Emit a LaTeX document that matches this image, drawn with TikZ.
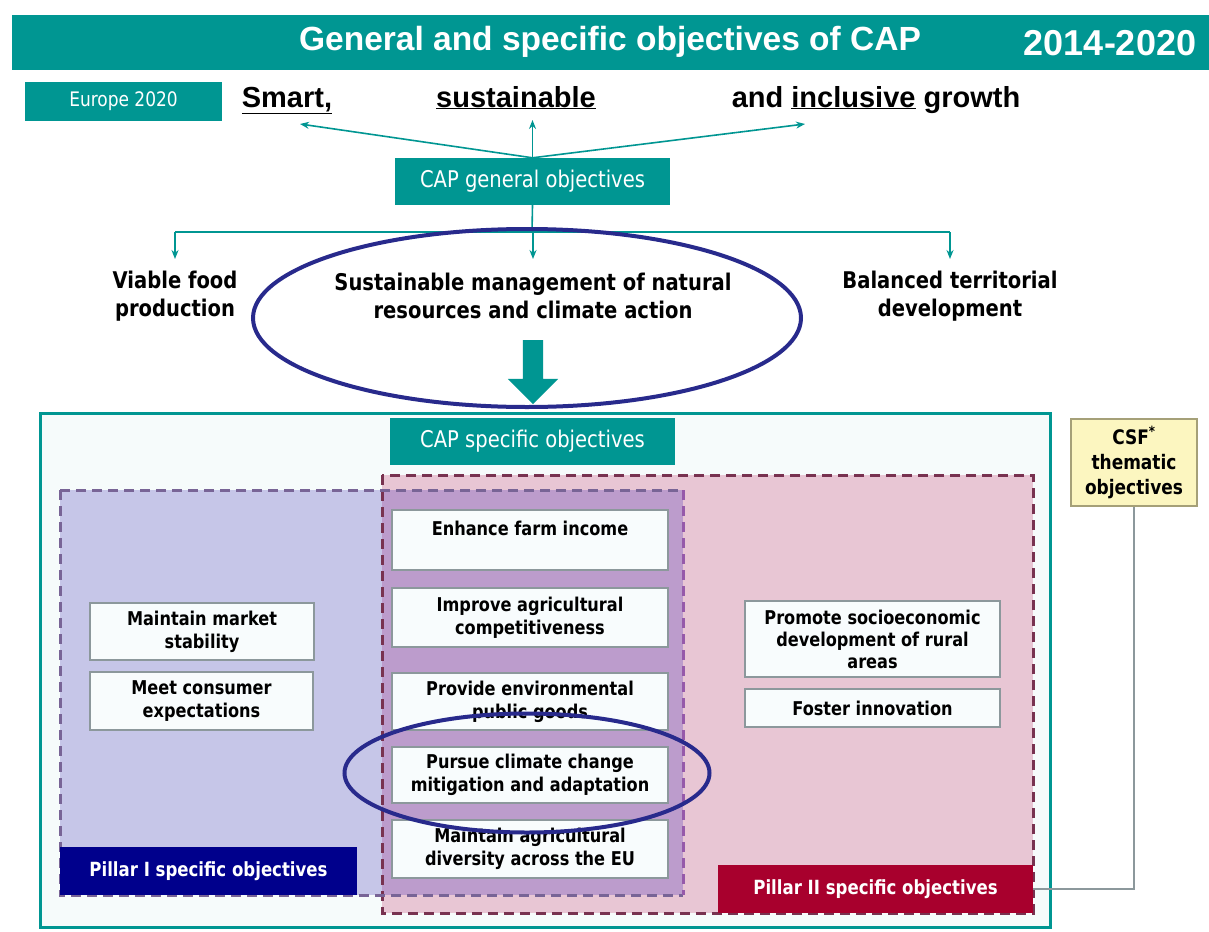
\documentclass[tikz,border=0pt]{standalone}
\usepackage{fontspec}
\setmainfont{Liberation Sans}
\newfontfamily\boxfont{DejaVu Sans}[FakeStretch=0.85]
\usetikzlibrary{arrows.meta,shapes.geometric,shapes.arrows}

\definecolor{capteal}{RGB}{0,150,146}
\definecolor{ringblue}{RGB}{40,42,140}
\definecolor{pilloneback}{RGB}{198,198,232}
\definecolor{pilltwoback}{RGB}{232,198,212}
\definecolor{bothback}{RGB}{188,156,204}
\definecolor{pillonedash}{RGB}{120,100,150}
\definecolor{pilltwodash}{RGB}{120,50,80}
\definecolor{bothdash}{RGB}{150,90,170}
\definecolor{pillonelabel}{RGB}{0,0,140}
\definecolor{pilltwolabel}{RGB}{168,0,45}
\definecolor{boxfill}{RGB}{248,252,253}
\definecolor{boxedge}{RGB}{140,152,156}
\definecolor{csfback}{RGB}{252,246,192}
\definecolor{csfedge}{RGB}{165,160,120}
\definecolor{outerback}{RGB}{246,251,251}

\tikzset{
  tealbox/.style={fill=capteal, text=white, inner sep=0pt,
    font=\boxfont\fontsize{23}{26}\selectfont},
  objbox/.style={draw=boxedge, fill=boxfill, line width=1.5pt, inner sep=0pt,
    align=center, font=\boxfont\bfseries\fontsize{19}{23}\selectfont},
  aimtext/.style={align=center, inner sep=2pt,
    font=\boxfont\bfseries\fontsize{23}{28}\selectfont},
  growth/.style={anchor=base, font=\bfseries\fontsize{29}{32}\selectfont},
  thinarrow/.style={capteal, line width=1.6pt, -{Stealth[length=9pt,width=7pt]}},
  ring/.style={draw=ringblue, line width=4pt, ellipse, inner sep=0pt},
  pillarlabel/.style={text=white, inner sep=0pt,
    font=\boxfont\bfseries\fontsize{19.5}{22}\selectfont},
  pillardash/.style={line width=3pt, dash pattern=on 10pt off 6pt},
}

\begin{document}
\begin{tikzpicture}[x=1pt,y=-1pt]
  \useasboundingbox (0,0) rectangle (1209,931);
  \fill[white] (0,0) rectangle (1209,931);

  % Heading band
  \fill[capteal] (12,15) rectangle (1209,70);
  \node[text=white, font=\bfseries\fontsize{33.5}{36}\selectfont] (title) at (610,42) {General and specific objectives of CAP};
  \node[text=white, font=\bfseries\fontsize{36}{40}\selectfont] (years) at (1110,43) {2014-2020};

  % Europe 2020 goals
  \node[tealbox, minimum width=197pt, minimum height=39pt,
        font=\boxfont\fontsize{20}{22}\selectfont] (europe) at (123.5,101.5) {Europe 2020};
  \node[growth] (smart) at (287,107) {\underline{Smart,}};
  \node[growth] (sust) at (516,107) {\underline{sustainable}};
  \node[growth] (incl) at (876,107) {and \underline{inclusive} growth};

  \node[tealbox, minimum width=275pt, minimum height=47pt] (general) at (532.5,181.5) {CAP general objectives};
  \coordinate (goalfoot) at (0,124);
  \draw[thinarrow] (general.north) -- ([xshift=13pt]smart.base |- goalfoot);
  \draw[thinarrow] (general.north) -- (general.north |- 0,120);
  \draw[thinarrow] (general.north) -- ([xshift=-71pt]incl.base |- goalfoot);

  % General objectives
  \coordinate (fork) at (532,232);
  \coordinate (aimtop) at (0,259);
  \node[aimtext] (viable) at (175,296) {Viable food\\production};
  \node[aimtext] (natural) at (533,296) {Sustainable management of natural\\resources and climate action};
  \node[aimtext] (balanced) at (950,296) {Balanced territorial\\development};
  \draw[capteal, line width=1.6pt] (general.south) -- (fork);
  \draw[capteal, line width=1.6pt] (viable.north |- fork) -- (balanced.north |- fork);
  \foreach \aim in {viable,natural,balanced}
    \draw[thinarrow] (\aim.north |- fork) -- (\aim.north |- aimtop);

  \node[single arrow, fill=capteal, inner sep=10pt, minimum height=64pt,
        single arrow head extend=15pt, shape border rotate=270] (down) at (533,367) {};

  % Specific objectives frame
  \node[draw=capteal, fill=outerback, line width=3pt, minimum width=1010pt,
        minimum height=514pt, inner sep=0pt] (frame) at (545,670) {};
  \node[tealbox, minimum width=285pt, minimum height=47pt] (specific) at (532.5,441.5) {CAP specific objectives};

  % Pillar areas
  \fill[pilltwoback] (382,475) rectangle (1033,913);
  \fill[pilloneback] (60,490) rectangle (382,895);
  \fill[bothback] (382,490) rectangle (683,895);
  \draw[pilltwodash, pillardash] (382,475) rectangle (1033,913);
  \draw[pillonedash, pillardash] (60,490) -- (683,490);
  \draw[pillonedash, pillardash] (60,490) -- (60,895) -- (683,895);
  \draw[bothdash, pillardash] (683,490) -- (683,895);

  \node[pillarlabel, fill=pillonelabel, minimum width=297pt, minimum height=48pt] (pillone) at (208.5,871) {Pillar I specific objectives};
  \node[pillarlabel, fill=pilltwolabel, minimum width=315pt, minimum height=48pt] (pilltwo) at (875.5,889) {Pillar II specific objectives};

  % Pillar I objectives
  \node[objbox, minimum width=224pt, minimum height=57pt] (market) at (202,631.5) {Maintain market\\stability};
  \node[objbox, minimum width=223pt, minimum height=58pt] (consumer) at (201.5,701) {Meet consumer\\expectations};

  % Shared objectives
  \node[objbox, minimum width=276pt, minimum height=60pt] (income) at (530,540) {Enhance farm income\\\phantom{x}};
  \node[objbox, minimum width=276pt, minimum height=59pt] (compet) at (530,617.5) {Improve agricultural\\competitiveness};
  \node[objbox, minimum width=276pt, minimum height=57pt] (goods) at (530,701.5) {Provide environmental\\public goods};
  \node[objbox, minimum width=276pt, minimum height=56pt] (climate) at (530,775) {Pursue climate change\\mitigation and adaptation};
  \node[objbox, minimum width=276pt, minimum height=58pt] (diversity) at (530,849) {Maintain agricultural\\diversity across the EU};

  % Pillar II objectives
  \node[objbox, minimum width=255pt, minimum height=76pt, font=\boxfont\bfseries\fontsize{19}{22}\selectfont] (socio) at (872.5,639) {Promote socioeconomic\\development of rural\\areas};
  \node[objbox, minimum width=255pt, minimum height=38pt] (innov) at (872.5,708) {Foster innovation};

  % CSF thematic objectives
  \node[draw=csfedge, fill=csfback, line width=1.5pt, minimum width=126pt, minimum height=87pt,
        align=center, inner sep=0pt, font=\boxfont\bfseries\fontsize{20}{25}\selectfont] (csf) at (1134,462.5) {CSF\textsuperscript{*}\\thematic\\objectives};
  \draw[boxedge, line width=1.5pt] (csf.south) |- (pilltwo.east);

  % Highlights
  \node[ring, minimum width=548pt, minimum height=178pt] (ringtop) at (527,318) {};
  \node[ring, minimum width=365pt, minimum height=119pt] (ringlow) at (527,773) {};
\end{tikzpicture}
\end{document}
